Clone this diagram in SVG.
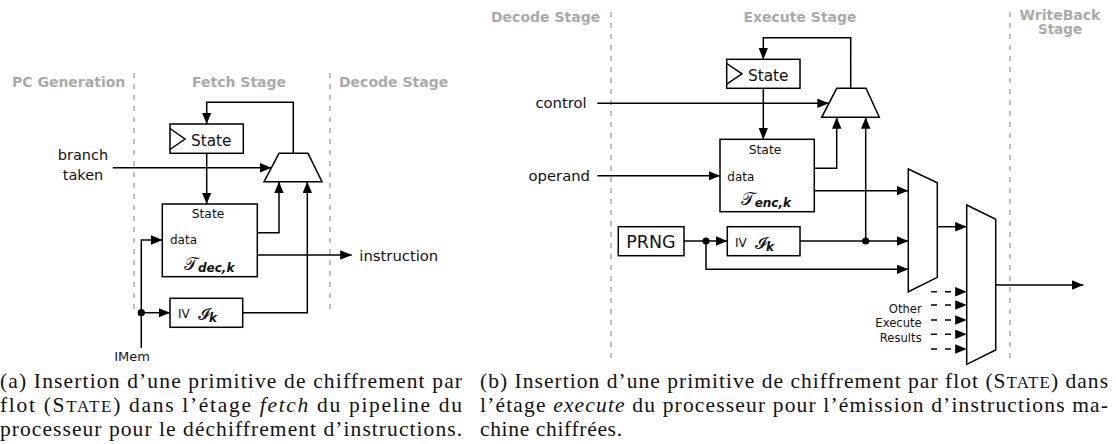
<svg xmlns="http://www.w3.org/2000/svg" width="1116" height="444" viewBox="0 0 1116 444">
<defs>
<marker id="ah" markerUnits="userSpaceOnUse" markerWidth="12" markerHeight="10" refX="11.5" refY="4.75" orient="auto">
<path d="M0,0 L11.5,4.75 L0,9.5 z" fill="#000"/>
</marker>
<style>
.st{fill:none;stroke:#000;stroke-width:1.5}
.w{fill:none;stroke:#000;stroke-width:1.5}
.a{marker-end:url(#ah)}
.dash{fill:none;stroke:#000;stroke-width:1.5;stroke-dasharray:6 8}
.stg{stroke:#bdbdbd;stroke-width:2;stroke-dasharray:5 6;fill:none}
.gl{font-family:'DejaVu Sans',sans-serif;font-weight:bold;font-size:14px;fill:#aaaaaa}
.t{font-family:'DejaVu Sans',sans-serif;fill:#111}
.math{font-family:'DejaVu Sans','DejaVu Serif','Noto Sans',serif;fill:#111}
.sub{font-family:'DejaVu Sans',sans-serif;font-weight:bold;font-style:italic;font-size:12px}
.cap{font-family:'Liberation Serif',serif;font-size:21.5px;fill:#111}
.dot{fill:#000}
</style>
</defs>

<!-- stage separators -->
<g id="stages-a">
<line class="stg" x1="134" y1="73" x2="134" y2="313"/>
<line class="stg" x1="330" y1="73" x2="330" y2="313"/>
<text class="gl" x="12" y="87">PC Generation</text>
<text class="gl" x="239" y="87" text-anchor="middle">Fetch Stage</text>
<text class="gl" x="339" y="87">Decode Stage</text>
</g>
<g id="stages-b">
<line class="stg" x1="611" y1="12" x2="611" y2="358"/>
<line class="stg" x1="1010" y1="12" x2="1010" y2="360"/>
<text class="gl" x="491" y="22">Decode Stage</text>
<text class="gl" x="800" y="22" text-anchor="middle">Execute Stage</text>
<text class="gl" x="1060" y="20" text-anchor="middle">WriteBack</text>
<text class="gl" x="1060" y="34" text-anchor="middle" style="font-size:13.5px">Stage</text>
</g>

<!-- connectors -->
<g id="connectors">
<!-- left -->
<path class="w a" d="M293.3,153.3 V102.3 H206.7 V124"/>
<path class="w a" d="M206.7,153.3 V204"/>
<path class="w a" d="M112.7,167.7 H271.4"/>
<path class="w a" d="M141.3,348 V240 H162.3"/>
<path class="w a" d="M141.3,312.7 H170"/>
<path class="w a" d="M242.7,312.7 H307.3 V181.7"/>
<path class="w a" d="M257.3,232.7 H279 V181.7"/>
<path class="w a" d="M257.3,255 H351.7"/>
<circle class="dot" cx="141.3" cy="312.7" r="3.6"/>
<!-- right -->
<path class="w a" d="M850.7,88.3 V37.7 H763.3 V59.3"/>
<path class="w a" d="M763.3,88.3 V139.3"/>
<path class="w a" d="M597.3,103.3 H828.9"/>
<path class="w a" d="M597.3,175.7 H720"/>
<path class="w a" d="M814.3,168.3 H836.7 V117.3"/>
<path class="w a" d="M814.3,190.7 H908.3"/>
<path class="w a" d="M865.7,241 V117.3"/>
<path class="w a" d="M684,241 H727.3"/>
<path class="w a" d="M800,241 H908.3"/>
<path class="w a" d="M706,241 V269.3 H908.3"/>
<path class="w a" d="M937.3,226.7 H966.7"/>
<path class="w a" d="M995.7,285 H1083.3"/>
<path class="dash a" d="M931,291.7 H966.7"/>
<path class="dash a" d="M931,305 H966.7"/>
<path class="dash a" d="M931,320 H966.7"/>
<path class="dash a" d="M931,334.3 H966.7"/>
<path class="dash a" d="M931,349 H966.7"/>
<circle class="dot" cx="706" cy="241" r="3.6"/>
<circle class="dot" cx="865.7" cy="241" r="3.6"/>
</g>

<!-- left nodes -->
<g id="a-state">
<rect class="st" x="170" y="124" width="73.3" height="29.3" fill="#fff"/>
<polyline class="st" points="170,128.5 185,139 170,149.5"/>
<text class="t" x="191" y="146" font-size="15.3">State</text>
</g>
<g id="a-mux">
<polygon class="st" points="279,153.3 308,153.3 322,181.7 264,181.7"/>
</g>
<g id="a-branch">
<text class="t" x="83" y="160" font-size="14.5" text-anchor="middle">branch</text>
<text class="t" x="83" y="180" font-size="14.5" text-anchor="middle">taken</text>
</g>
<g id="a-dec">
<rect class="st" x="162.3" y="204" width="95" height="72.7"/>
<text class="t" x="208" y="218" font-size="12.3" text-anchor="middle">State</text>
<text class="t" x="170" y="244" font-size="12">data</text>
<text class="math" x="184" y="270" font-size="18">𝒯<tspan class="sub" dy="2">dec,k</tspan></text>
</g>
<g id="a-iv">
<rect class="st" x="170" y="298.3" width="72.7" height="29"/>
<text class="t" x="178" y="318" font-size="12">IV</text>
<text class="math" x="198" y="320" font-size="17">𝓘<tspan class="sub" dy="2">k</tspan></text>
</g>
<g id="a-instr">
<text class="t" x="359.3" y="260.7" font-size="14.8">instruction</text>
</g>
<g id="a-imem">
<text class="t" x="132" y="361" font-size="13" text-anchor="middle">IMem</text>
</g>

<!-- right nodes -->
<g id="b-state">
<rect class="st" x="726.7" y="59.3" width="73.3" height="29"/>
<polyline class="st" points="726.7,63.5 742,73.8 726.7,84.2"/>
<text class="t" x="748" y="81" font-size="15.3">State</text>
</g>
<g id="b-mux">
<polygon class="st" points="836.7,88.3 866,88.3 879.3,117.3 821.7,117.3"/>
</g>
<g id="b-control">
<text class="t" x="586.7" y="108" font-size="14.8" text-anchor="end">control</text>
</g>
<g id="b-operand">
<text class="t" x="590" y="181" font-size="14.8" text-anchor="end">operand</text>
</g>
<g id="b-enc">
<rect class="st" x="720" y="139.3" width="94.3" height="72.4"/>
<text class="t" x="765" y="154" font-size="12.3" text-anchor="middle">State</text>
<text class="t" x="727.3" y="180.7" font-size="12">data</text>
<text class="math" x="740.7" y="205" font-size="18">𝒯<tspan class="sub" dy="2">enc,k</tspan></text>
</g>
<g id="b-prng">
<rect class="st" x="618.3" y="226.7" width="65.7" height="29"/>
<text class="t" x="651" y="248" font-size="17.5" text-anchor="middle">PRNG</text>
</g>
<g id="b-iv">
<rect class="st" x="727.3" y="226.7" width="72.7" height="29"/>
<text class="t" x="735" y="246.5" font-size="12">IV</text>
<text class="math" x="755" y="248.5" font-size="17">𝓘<tspan class="sub" dy="2">k</tspan></text>
</g>
<g id="b-mux1">
<polygon class="st" points="908.3,169 937.3,182.7 937.3,277.3 908.3,291.7"/>
</g>
<g id="b-mux2">
<polygon class="st" points="966.7,205 995.7,219.3 995.7,350 966.7,364.3"/>
</g>
<g id="b-other">
<text class="t" x="921.7" y="313.3" font-size="11.6" text-anchor="end">Other</text>
<text class="t" x="921.7" y="326.7" font-size="11.6" text-anchor="end">Execute</text>
<text class="t" x="921.7" y="341.7" font-size="11.6" text-anchor="end">Results</text>
</g>

<!-- captions -->
<g id="caption-a">
<text class="cap" x="0" y="388" textLength="462" lengthAdjust="spacing">(a) Insertion d’une primitive de chiffrement par</text>
<text class="cap" x="0" y="412" textLength="462" lengthAdjust="spacing">flot (S<tspan font-size="17">TATE</tspan>) dans l’étage <tspan font-style="italic">fetch</tspan> du pipeline du</text>
<text class="cap" x="0" y="436" textLength="462" lengthAdjust="spacing">processeur pour le déchiffrement d’instructions.</text>
</g>
<g id="caption-b">
<text class="cap" x="480" y="388" textLength="628" lengthAdjust="spacing">(b) Insertion d’une primitive de chiffrement par flot (S<tspan font-size="17">TATE</tspan>) dans</text>
<text class="cap" x="480" y="412" textLength="628" lengthAdjust="spacing">l’étage <tspan font-style="italic">execute</tspan> du processeur pour l’émission d’instructions ma-</text>
<text class="cap" x="480" y="436" textLength="142" lengthAdjust="spacing">chine chiffrées.</text>
</g>
</svg>
